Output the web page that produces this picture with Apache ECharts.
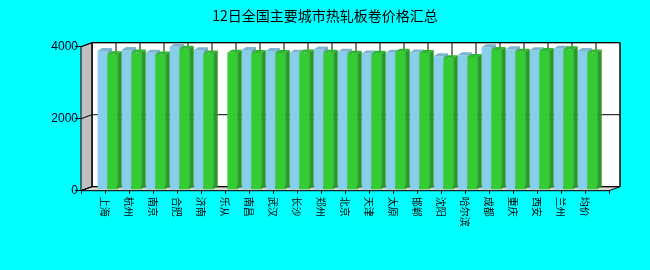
<!DOCTYPE html>
<html>
<head>
<meta charset="utf-8">
<script src="https://cdn.jsdelivr.net/npm/echarts@6/dist/echarts.min.js"></script>
<style>html,body{margin:0;padding:0;background:#00FFFF;}#c{width:650px;height:270px;}</style>
</head>
<body>
<div id="c"></div>
<script>
var titleText = '12日全国主要城市热轧板卷价格汇总';
var cities = ['上海','杭州','南京','合肥','济南','乐从','南昌','武汉','长沙','郑州','北京','天津','太原','邯郸','沈阳','哈尔滨','成都','重庆','西安','兰州','均价'];
var seriesBlue = [3840,3870,3790,3960,3860,null,3870,3840,3790,3880,3820,3770,3790,3800,3690,3720,3940,3890,3860,3900,3840];
var seriesGreen = [3750,3800,3740,3900,3770,3790,3780,3780,3800,3790,3760,3760,3820,3780,3640,3670,3870,3820,3840,3890,3800];
var yTicks = [0, 2000, 4000];

var DX = 11, DY = -4;      // wall depth
var BDX = 4.5, BDY = -3;   // bar depth
var BSHIFT = -1.5;         // bar set-back on floor

var axisData = [''].concat(cities).concat(['']);
var lastIdx = axisData.length - 1;

function barRender(left, right, cFront, cTop, cSide) {
  return function (params, api) {
    var v = api.value(1);
    if (v == null || isNaN(v)) return;
    var p = api.coord([api.value(0), v]);
    var b = api.coord([api.value(0), 0]);
    var x0 = p[0] + left, x1 = p[0] + right;
    var yt = p[1] + BSHIFT, yb = b[1] + BSHIFT;
    return {
      type: 'group',
      children: [
        {type: 'rect', shape: {x: x0, y: yt, width: x1 - x0, height: yb - yt}, style: {fill: cFront}},
        {type: 'polygon', shape: {points: [[x0, yt], [x1, yt], [x1 + BDX, yt + BDY], [x0 + BDX, yt + BDY]]}, style: {fill: cTop}},
        {type: 'polygon', shape: {points: [[x1, yt], [x1 + BDX, yt + BDY], [x1 + BDX, yb + BDY], [x1, yb]]}, style: {fill: cSide}}
      ]
    };
  };
}

function wallRender(params, api) {
  var A = api.coord([0, 0]);
  var B = api.coord([lastIdx, yTicks[yTicks.length - 1]]);
  var ch = [];
  ch.push({type: 'rect', shape: {x: A[0] + DX, y: B[1] + DY, width: B[0] - A[0], height: A[1] - B[1]},
    style: {fill: '#FFFFFF', stroke: '#000', lineWidth: 1}});
  ch.push({type: 'polygon', shape: {points: [[A[0], B[1]], [A[0] + DX, B[1] + DY], [A[0] + DX, A[1] + DY], [A[0], A[1]]]},
    style: {fill: '#C0C0C0', stroke: '#000', lineWidth: 1}});
  ch.push({type: 'polygon', shape: {points: [[A[0], A[1]], [A[0] + DX, A[1] + DY], [B[0] + DX, A[1] + DY], [B[0], A[1]]]},
    style: {fill: '#D8D8D8', stroke: '#000', lineWidth: 1}});
  for (var i = 0; i < yTicks.length; i++) {
    var y = api.coord([0, yTicks[i]])[1];
    ch.push({type: 'polyline', shape: {points: [[A[0], y], [A[0] + DX, y + DY], [B[0] + DX, y + DY]]},
      style: {stroke: '#000', lineWidth: 1, fill: null}});
  }
  for (var k = 0; k <= lastIdx; k++) {
    var x = api.coord([k, 0])[0];
    ch.push({type: 'line', shape: {x1: x + DX, y1: B[1] + DY, x2: x + DX, y2: A[1] + DY},
      style: {stroke: '#000', lineWidth: 1}});
  }
  return {type: 'group', children: ch};
}

var chart = echarts.init(document.getElementById('c'), null, {renderer: 'canvas'});
chart.setOption({
  backgroundColor: '#00FFFF',
  animation: false,
  title: {
    text: titleText, left: 'center', top: 4,
    textStyle: {fontSize: 14, fontWeight: 'normal', color: '#000', fontFamily: '"Noto Sans CJK SC", sans-serif'}
  },
  grid: {left: 81, right: 41, top: 46.7, bottom: 79.3},
  xAxis: {
    type: 'category', data: axisData, boundaryGap: false,
    axisLine: {lineStyle: {color: '#000', width: 1}},
    axisTick: {show: true, length: 3, interval: 0, lineStyle: {color: '#000'}},
    axisLabel: {interval: 0, rotate: -90, margin: 6, fontSize: 10, color: '#000',
      fontFamily: '"Noto Sans CJK SC", sans-serif'},
    splitLine: {show: false}
  },
  yAxis: {
    type: 'value', min: 0, max: 4000, interval: 2000,
    axisLine: {show: true, lineStyle: {color: '#000', width: 1}},
    axisTick: {show: true, length: 6, lineStyle: {color: '#000'}},
    axisLabel: {fontSize: 12, color: '#000022', margin: 3, fontFamily: '"Liberation Sans", Arial, sans-serif',
      formatter: function (v) { return String(v); }},
    splitLine: {show: false}
  },
  series: [
    {type: 'custom', z: 1, renderItem: wallRender, data: [[0, 0]], silent: true},
    {type: 'custom', z: 2, renderItem: barRender(-7.4, 2.4, '#87CEEB', '#79B6D2', '#6DA6C0'),
      data: seriesBlue.map(function (v, i) { return [i + 1, v == null ? NaN : v]; })},
    {type: 'custom', z: 3, renderItem: barRender(2.4, 12.2, '#33CC33', '#2DB92D', '#289A28'),
      data: seriesGreen.map(function (v, i) { return [i + 1, v]; })}
  ]
});
</script>
</body>
</html>
